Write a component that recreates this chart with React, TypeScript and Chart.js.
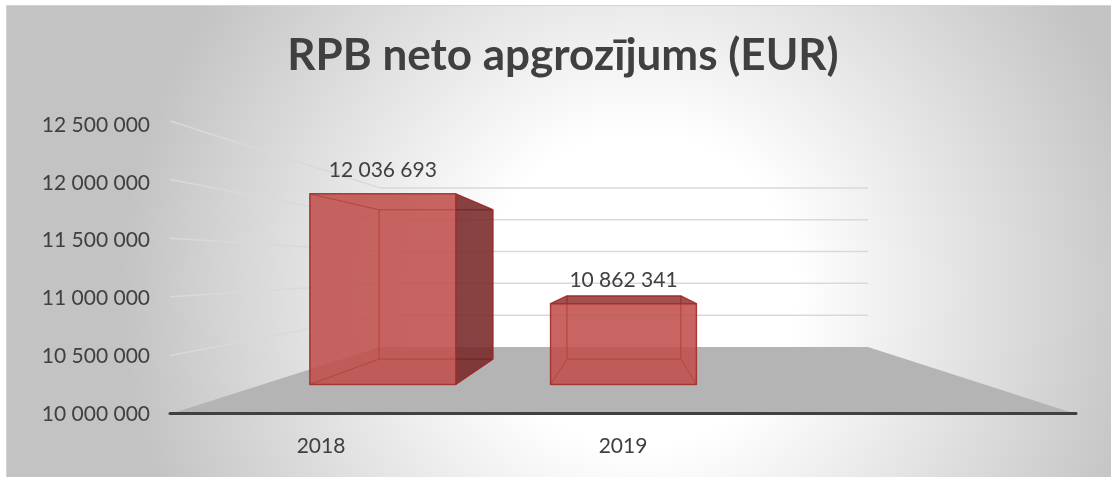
import React, { useEffect, useRef } from "react";
import { Chart, registerables } from "chart.js";

Chart.register(...registerables);

// ---- data ----
const categories = ["2018", "2019", ""];
const revenue: (number | null)[] = [12036693, 10862341, null];
const yMin = 10000000;
const yMax = 12500000;
const yStep = 500000;
const titleText = "RPB neto apgrozījums (EUR)";

const fmt = (v: number) =>
  Math.round(v).toString().replace(/\B(?=(\d{3})+(?!\d))/g, " ");

const FONT = "Lato, 'Open Sans', 'DejaVu Sans', sans-serif";
const TEXT = "#404040";

// ---- 3D projection style (fractions of the front plane) ----
const P = {
  frontTopUp: 0.014,
  backBottomUp: 0.232,
  backTopDown: 0.218,
  backLeftIn: 0.232,
  backRightIn: 0.2296,
  barFront: 0.44,
  barBack: 0.818,
};

function makeProj(chart: any) {
  const { left: X0, right: X1, top: Yt, bottom: Yb } = chart.chartArea;
  const W = X1 - X0;
  const H = Yb - Yt;
  const fTop = Yt - P.frontTopUp * H;
  const bBot = Yb - P.backBottomUp * H;
  const bTop = Yt + P.backTopDown * H;
  const bL = X0 + P.backLeftIn * W;
  const bR = X1 - P.backRightIn * W;
  const proj = (xf: number, vf: number, t: number): [number, number] => {
    const l = X0 + (bL - X0) * t;
    const r = X1 + (bR - X1) * t;
    const bo = Yb + (bBot - Yb) * t;
    const to = fTop + (bTop - fTop) * t;
    return [l + xf * (r - l), bo - vf * (bo - to)];
  };
  return { proj, X0, X1, Yt, Yb, W, H };
}

function poly(ctx: CanvasRenderingContext2D, pts: [number, number][]) {
  ctx.beginPath();
  pts.forEach((p, i) => (i === 0 ? ctx.moveTo(p[0], p[1]) : ctx.lineTo(p[0], p[1])));
  ctx.closePath();
}

const backgroundPlugin = {
  id: "bg3d",
  beforeDraw(chart: any) {
    const ctx = chart.ctx as CanvasRenderingContext2D;
    const w = chart.width;
    const h = chart.height;
    ctx.save();
    ctx.fillStyle = "#ffffff";
    ctx.fillRect(0, 0, w, h);
    const g = ctx.createRadialGradient(640, 290, 0, 640, 290, 520);
    g.addColorStop(0, "#ffffff");
    g.addColorStop(0.3, "#ffffff");
    g.addColorStop(1, "#c3c3c3");
    ctx.fillStyle = g;
    ctx.fillRect(6, 5, w, h);
    ctx.strokeStyle = "#d4d4d4";
    ctx.lineWidth = 1;
    ctx.strokeRect(6.5, 5.5, w, h);
    // chart title (centred over the whole chart box)
    ctx.font = `bold 44px ${FONT}`;
    ctx.fillStyle = TEXT;
    ctx.textAlign = "center";
    ctx.textBaseline = "middle";
    ctx.fillText(titleText, 563, 56);
    ctx.restore();
  },
  beforeDatasetsDraw(chart: any) {
    const ctx = chart.ctx as CanvasRenderingContext2D;
    const { proj, Yb, H } = makeProj(chart);
    const ys = chart.scales.y;
    ctx.save();
    // floor
    ctx.fillStyle = "#b4b4b4";
    poly(ctx, [proj(0, 0, 0), proj(1, 0, 0), proj(1, 0, 1), proj(0, 0, 1)]);
    ctx.fill();
    // gridlines on side and back wall
    ctx.strokeStyle = "#d9d9d9";
    ctx.lineWidth = 1.5;
    for (let v = yMin + yStep; v <= yMax + 1; v += yStep) {
      const vf = (Yb - ys.getPixelForValue(v)) / H;
      const a = proj(0, vf, 0);
      const b = proj(0, vf, 1);
      const c = proj(1, vf, 1);
      ctx.beginPath();
      ctx.moveTo(a[0], a[1]);
      ctx.lineTo(b[0], b[1]);
      ctx.lineTo(c[0], c[1]);
      ctx.stroke();
    }
    // front axis line
    const s = proj(0, 0, 0);
    const e = proj(1, 0, 0);
    ctx.strokeStyle = "#404040";
    ctx.lineWidth = 3;
    ctx.lineCap = "round";
    ctx.beginPath();
    ctx.moveTo(s[0], s[1] - 0.5);
    ctx.lineTo(e[0], e[1] - 0.5);
    ctx.stroke();
    ctx.restore();
  },
  afterDatasetsDraw(chart: any) {
    const ctx = chart.ctx as CanvasRenderingContext2D;
    const { proj, X0, W, H, Yb } = makeProj(chart);
    const meta = chart.getDatasetMeta(0);
    const tF = P.barFront;
    const tB = P.barBack;
    ctx.save();
    meta.data.forEach((bar: any, i: number) => {
      const val = revenue[i];
      if (val == null) return;
      const props = bar.getProps(["x", "y", "width"], true);
      const xl = (props.x - props.width / 2 - X0) / W;
      const xr = (props.x + props.width / 2 - X0) / W;
      const vTop = (Yb - props.y) / H;
      const v0 = 0;
      const c = (xf: number, vf: number, t: number) => proj(xf, vf, t);
      const front = [c(xl, v0, tF), c(xr, v0, tF), c(xr, vTop, tF), c(xl, vTop, tF)];
      const back = [c(xl, v0, tB), c(xr, v0, tB), c(xr, vTop, tB), c(xl, vTop, tB)];
      const left = [c(xl, v0, tF), c(xl, v0, tB), c(xl, vTop, tB), c(xl, vTop, tF)];
      const right = [c(xr, v0, tF), c(xr, v0, tB), c(xr, vTop, tB), c(xr, vTop, tF)];
      const top = [c(xl, vTop, tF), c(xr, vTop, tF), c(xr, vTop, tB), c(xl, vTop, tB)];
      const bottom = [c(xl, v0, tF), c(xr, v0, tF), c(xr, v0, tB), c(xl, v0, tB)];

      const leftVis = back[0][0] < front[0][0];
      const rightVis = back[1][0] > front[1][0];
      const topVis = back[3][1] < front[3][1];
      const bottomVis = back[0][1] > front[0][1];

      const faceC = "rgba(192,80,77,0.65)";
      const sideC = "rgba(95,26,27,0.65)";
      const topC = "rgba(138,47,48,0.65)";
      const edge = "rgba(160,45,45,0.75)";

      const draw = (pts: any, fill: string, lw: number) => {
        poly(ctx, pts);
        ctx.fillStyle = fill;
        ctx.fill();
        ctx.strokeStyle = edge;
        ctx.lineWidth = lw;
        ctx.lineJoin = "round";
        ctx.stroke();
      };
      // back-facing faces
      draw(back, faceC, 1);
      if (!leftVis) draw(left, faceC, 1);
      if (!rightVis) draw(right, faceC, 1);
      if (!topVis) draw(top, faceC, 1);
      if (!bottomVis) draw(bottom, faceC, 1);
      // front-facing faces
      if (leftVis) draw(left, sideC, 1.5);
      if (rightVis) draw(right, sideC, 1.5);
      if (topVis) draw(top, topC, 1.5);
      if (bottomVis) draw(bottom, faceC, 1.5);
      draw(front, faceC, 1.5);

      // data label above the front face
      ctx.font = `21px ${FONT}`;
      ctx.fillStyle = TEXT;
      ctx.textAlign = "center";
      ctx.textBaseline = "middle";
      const lx = (front[2][0] + front[3][0]) / 2;
      const ly = front[3][1] - 24;
      ctx.fillText(fmt(val), lx, ly);
    });
    ctx.restore();
  },
};

export default function App() {
  const ref = useRef<HTMLCanvasElement | null>(null);

  useEffect(() => {
    document.body.style.margin = "0";
    const canvas = ref.current;
    if (!canvas) return;
    const chart = new Chart(canvas, {
      type: "bar",
      data: {
        labels: categories,
        datasets: [
          {
            label: "Neto apgrozījums",
            data: revenue,
            backgroundColor: "rgba(0,0,0,0)",
            borderWidth: 0,
            barPercentage: 1,
            categoryPercentage: 0.606,
          },
        ],
      },
      options: {
        responsive: false,
        animation: false,
        events: [],
        layout: { padding: { left: 0, right: 35, top: 125, bottom: 0 } },
        plugins: {
          legend: { display: false },
          tooltip: { enabled: false },
          title: { display: false },
        },
        scales: {
          x: {
            grid: { display: false, drawTicks: false },
            border: { display: false },
            ticks: {
              color: TEXT,
              font: { family: FONT, size: 21 },
              padding: 20,
              maxRotation: 0,
            },
            afterFit: (s: any) => {
              s.height = 63;
            },
          },
          y: {
            min: yMin,
            max: yMax,
            grid: { display: false, drawTicks: false },
            border: { display: false },
            ticks: {
              stepSize: yStep,
              color: TEXT,
              font: { family: FONT, size: 21 },
              padding: 20,
              callback: (v: any) => fmt(Number(v)),
            },
            afterFit: (s: any) => {
              s.width = 170;
            },
          },
        },
      },
      plugins: [backgroundPlugin],
    });
    return () => chart.destroy();
  }, []);

  return (
    <div style={{ position: "absolute", left: 0, top: 0, width: 1111, height: 477 }}>
      <canvas ref={ref} width={1111} height={477} />
    </div>
  );
}
